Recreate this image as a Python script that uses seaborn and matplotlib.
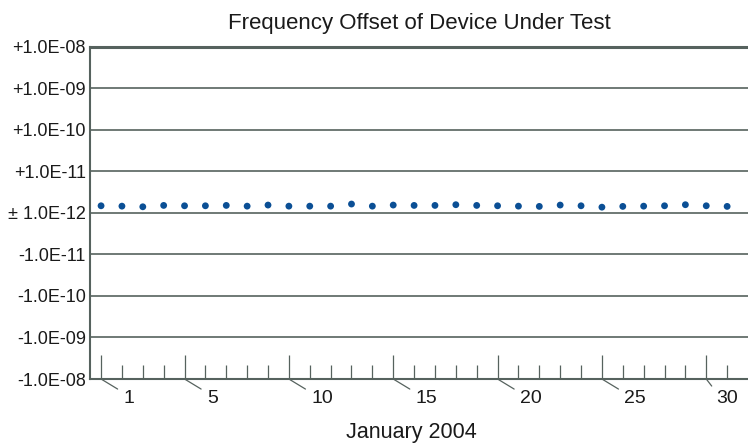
import numpy as np
import pandas as pd
import matplotlib.pyplot as plt
import matplotlib.ticker as mticker
import seaborn as sns

# Data
days = list(range(1, 32))
offsets_e12 = [1.48, 1.45, 1.40, 1.51, 1.48, 1.48, 1.51, 1.45, 1.54, 1.45,
               1.45, 1.45, 1.63, 1.45, 1.54, 1.51, 1.51, 1.57, 1.51, 1.48,
               1.45, 1.43, 1.54, 1.48, 1.37, 1.43, 1.45, 1.48, 1.57, 1.48, 1.43]
y_ticks = [-1e-8, -1e-9, -1e-10, -1e-11, 0, 1e-11, 1e-10, 1e-9, 1e-8]
y_tick_labels = ['-1.0E-08', '-1.0E-09', '-1.0E-10', '-1.0E-11', '\u00b1 1.0E-12',
                 '+1.0E-11', '+1.0E-10', '+1.0E-09', '+1.0E-08']
day_labels = [1, 5, 10, 15, 20, 25, 30]

df = pd.DataFrame({'day': days, 'offset': [v * 1e-12 for v in offsets_e12]})

FLOOR = 1e-12


def fwd(v):
    v = np.asarray(v, dtype=float)
    return np.sign(v) * np.log10(np.maximum(np.abs(v) / FLOOR, 1.0))


def inv(p):
    p = np.asarray(p, dtype=float)
    return np.sign(p) * FLOOR * 10.0 ** np.abs(p)


sns.set_theme(style='white')
plt.rcParams['font.family'] = ['Liberation Sans', 'DejaVu Sans']

line_col = '#56625e'
text_col = '#1a1a1a'

fig = plt.figure(figsize=(7.48, 4.44), dpi=100)
ax = fig.add_axes([90 / 748, 65 / 444, 658 / 748, 332.3 / 444])

sns.scatterplot(data=df, x='day', y='offset', ax=ax, color='#0b4f95',
                s=24, edgecolor='none', zorder=3)

ax.set_yscale('function', functions=(fwd, inv))
ax.set_ylim(-1e-8, 1e-8)
ax.set_yticks(y_ticks)
ax.set_yticklabels(y_tick_labels)
ax.yaxis.set_minor_locator(mticker.NullLocator())
ax.tick_params(axis='y', length=0, pad=3, labelsize=13, labelcolor=text_col)
ax.grid(axis='y', color=line_col, linewidth=1.2)
ax.set_axisbelow(True)

ax.set_xlim(0.47, 32.0)
ax.set_xticks(day_labels)
ax.set_xticklabels([])
ax.xaxis.set_minor_locator(mticker.FixedLocator(days))
ax.tick_params(axis='x', which='major', direction='in', length=17, width=0.9,
               color=line_col, bottom=True)
ax.tick_params(axis='x', which='minor', direction='in', length=10, width=0.9,
               color=line_col, bottom=True)

# day labels hang off the ticks on short slanted leaders;
# the last one is pulled in so it stays inside the picture
for d in day_labels:
    dx = 16 if d != day_labels[-1] else 7.5
    ax.annotate(str(d), xy=(d, 0), xycoords=('data', 'axes fraction'),
                xytext=(dx, -14), textcoords='offset points',
                ha='left', va='center', fontsize=14, color=text_col,
                arrowprops=dict(arrowstyle='-', color=line_col, lw=0.9,
                                shrinkA=2, shrinkB=0, relpos=(0, 0.85)))

for side in ['left', 'bottom', 'top']:
    ax.spines[side].set_color(line_col)
    ax.spines[side].set_linewidth(1.5)
ax.spines['top'].set_linewidth(2.2)
ax.spines['right'].set_visible(False)

ax.set_title('Frequency Offset of Device Under Test', fontsize=16,
             color=text_col, pad=13)
ax.set_xlabel('January 2004', fontsize=15.5, color=text_col)
ax.xaxis.set_label_coords(0.488, -0.128)
ax.set_ylabel('')

fig.savefig('out.png', dpi=100)
